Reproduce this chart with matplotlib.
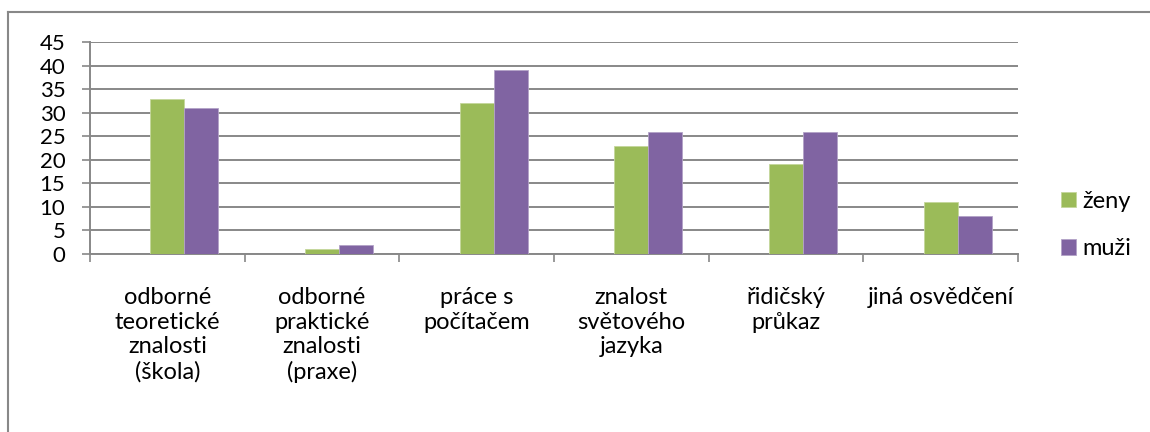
import matplotlib
matplotlib.use("Agg")
import matplotlib.pyplot as plt
from matplotlib.lines import Line2D
import numpy as np

categories = [
    "odborné\nteoretické\nznalosti\n(škola)",
    "odborné\npraktické\nznalosti\n(praxe)",
    "práce s\npočítačem",
    "znalost\nsvětového\njazyka",
    "řidičský\nprůkaz",
    "jiná osvědčení",
]
zeny = [33, 1, 32, 23, 19, 11]
muzi = [31, 2, 39, 26, 26, 8]
yticks = list(range(0, 50, 5))

green = "#9BBB59"
purple = "#8064A2"
grey = "#888888"

plt.rcParams["font.family"] = ["Lato", "DejaVu Sans"]

fig = plt.figure(figsize=(11.5, 4.32), dpi=100)
ax = fig.add_axes([90 / 1150, 1 - 254 / 432, 928 / 1150, 212 / 432])

x = np.arange(len(categories))
w = 0.22
# v grafu je skrytá prázdná řada, proto jsou sloupce posunuté doprava
ax.bar(x, zeny, w, color=green, edgecolor="#c4d79b", linewidth=0.6, label="ženy", zorder=3)
ax.bar(x + w, muzi, w, color=purple, edgecolor="#b3a2c7", linewidth=0.6, label="muži", zorder=3)

ax.set_xlim(-0.5, len(categories) - 0.5)
ax.set_ylim(0, 45)
ax.set_yticks(yticks)
ax.yaxis.grid(True, color=grey, linewidth=1.4, zorder=0)
ax.set_axisbelow(True)

ax.set_xticks(x)
ax.set_xticklabels(categories, fontsize=17, linespacing=1.2)
ax.set_xticks(np.arange(-0.5, len(categories)), minor=True)
ax.tick_params(axis="x", which="major", length=0, pad=24)
ax.tick_params(axis="x", which="minor", length=6, width=1.2, color=grey)
ax.tick_params(axis="y", length=5.8, width=1.2, color=grey, labelsize=16, pad=12)

for s in ["top", "right"]:
    ax.spines[s].set_visible(False)
for s in ["left", "bottom"]:
    ax.spines[s].set_color(grey)
    ax.spines[s].set_linewidth(1.4)

ax.legend(loc="center left", bbox_to_anchor=(1061 / 1150, 1 - 225 / 432),
          bbox_transform=fig.transFigure, frameon=False, fontsize=17,
          handlelength=0.64, handleheight=0.64, handletextpad=0.28,
          labelspacing=1.12, borderpad=0, borderaxespad=0)

# rámeček kolem grafu
fig.add_artist(Line2D([8 / 1150, 8 / 1150], [-0.1, 1 - 12 / 432], transform=fig.transFigure,
                      color=grey, linewidth=1.5))
fig.add_artist(Line2D([8 / 1150, 1.1], [1 - 12 / 432, 1 - 12 / 432], transform=fig.transFigure,
                      color=grey, linewidth=1.5))

fig.savefig("out.png", dpi=100)
